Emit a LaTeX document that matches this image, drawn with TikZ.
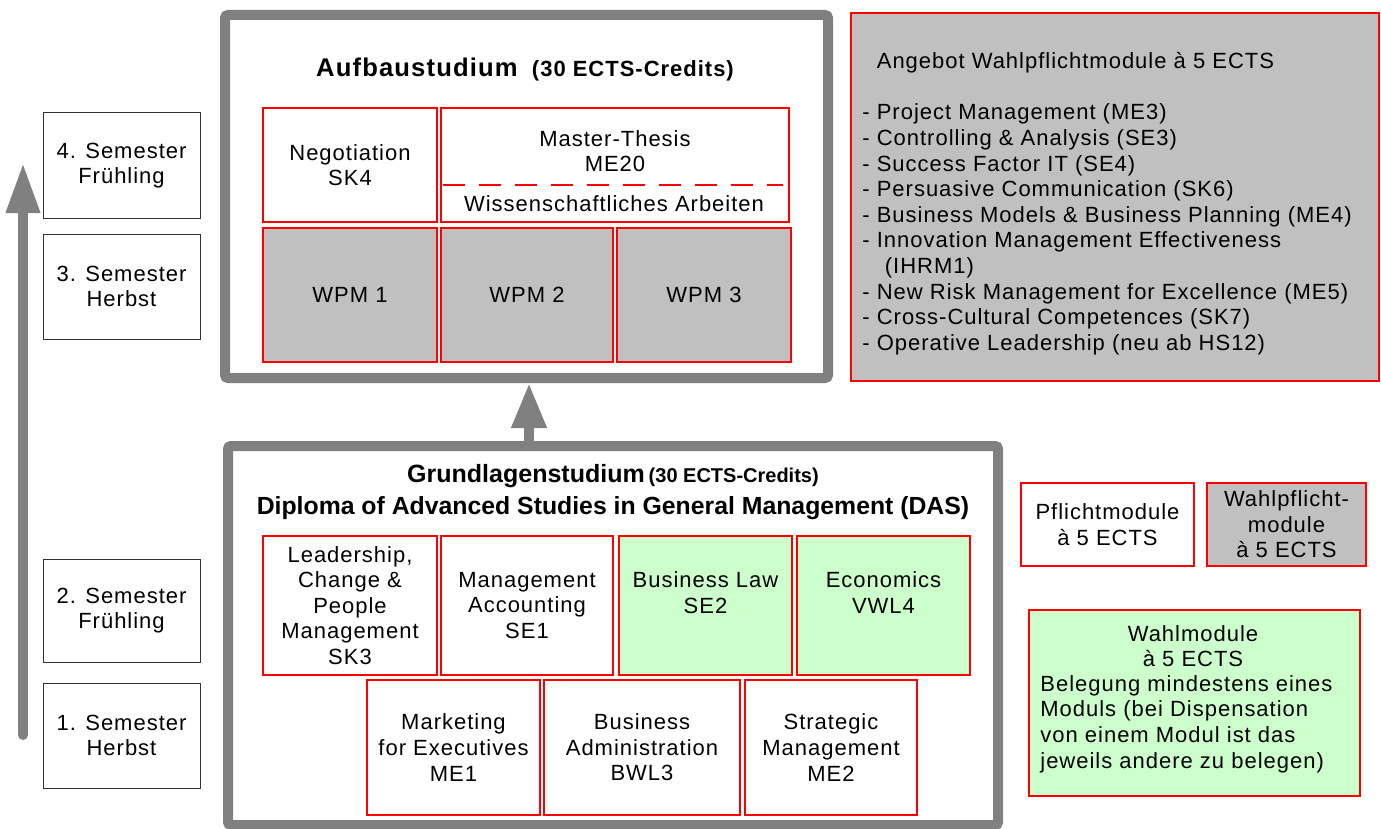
\documentclass[tikz,border=0pt]{standalone}
\usepackage{fontspec}
\setmainfont{Liberation Sans}[LetterSpace=4.5]
\newfontfamily\plainfont{Liberation Sans}
\usetikzlibrary{arrows.meta}
\definecolor{grayline}{HTML}{808080}
\definecolor{grayfill}{HTML}{C0C0C0}
\definecolor{greenfill}{HTML}{CCFFCC}
\definecolor{redline}{HTML}{FF0000}
\newcommand\mybox[7]{\node[#6, minimum width={(#4-#2)*0.5pt}, minimum height={(#5-#3)*0.5pt}] (#1) at ({(#2+#4)/2},{(#3+#5)/2}) {#7};}
\begin{document}
\begin{tikzpicture}[x=0.5pt,y=-0.5pt,font=\fontsize{11}{12.8}\selectfont,
  semb/.style={draw=black!80, line width=0.5pt, fill=white, align=center, inner sep=0pt},
  modw/.style={draw=redline, line width=1.25pt, fill=white, align=center, inner sep=0pt},
  modg/.style={modw, fill=grayfill},
  modgr/.style={modw, fill=greenfill},
  frame/.style={draw=grayline, line width=5pt, rounded corners=1.5pt, inner sep=0pt},
  txt/.style={align=center, inner sep=0pt},
  listtxt/.style={align=left, inner sep=0pt, anchor=north west},
  bigarrow/.style={draw=grayline, line width=5pt},
  dashline/.style={draw=redline, line width=1.25pt, dash pattern=on 11pt off 7pt}]
\path[use as bounding box, fill=white] (0,0) rectangle (1381,829);

% left time arrow
\coordinate (la0) at (23,735);
\coordinate (la1) at (23,163);
\draw[bigarrow, line cap=round, -{Triangle[width=16pt,length=25pt]}] (la0) -- (la1);

% semester boxes
\mybox{s4}{43}{113}{200}{218}{semb}{4. Semester\\Frühling}
\mybox{s3}{43}{234}{200}{339}{semb}{3. Semester\\Herbst}
\mybox{s2}{43}{559}{200}{662}{semb}{2. Semester\\Frühling}
\mybox{s1}{43}{683}{200}{788}{semb}{1. Semester\\Herbst}

% Aufbaustudium
\mybox{aufbau}{225}{15}{828}{378}{frame}{}
\node[txt] (atitle) at (525,70) {\fontsize{12.8}{14}\selectfont\bfseries Aufbaustudium\hspace{3pt} \fontsize{11}{13}\selectfont(30 ECTS-Credits)};
\mybox{neg}{263}{108}{437}{222}{modw}{Negotiation\\SK4}
\mybox{mt}{441}{108}{789}{222}{modw}{}
\node[txt] (mtt) at (615,151) {Master-Thesis\\ME20};
\node[txt] (wa) at (614,204) {Wissenschaftliches Arbeiten};
\coordinate (d1) at (443,185);
\coordinate (d2) at (783,185);
\draw[dashline] (d1) -- (d2);
\mybox{w1}{263}{228}{437}{362}{modg}{WPM 1}
\mybox{w2}{441}{228}{613}{362}{modg}{WPM 2}
\mybox{w3}{617}{228}{791}{362}{modg}{WPM 3}

% Wahlpflicht offer
\mybox{wpm}{851}{13}{1379}{381}{modg}{}
\node[listtxt] (wpml) at (862,52) {\hphantom{- }Angebot Wahlpflichtmodule à 5 ECTS\\[12.8pt]
- Project Management (ME3)\\
- Controlling \& Analysis (SE3)\\
- Success Factor IT (SE4)\\
- Persuasive Communication (SK6)\\
- Business Models \& Business Planning (ME4)\\
- Innovation Management Effectiveness\\
\hphantom{- }\hspace{4pt}(IHRM1)\\
- New Risk Management for Excellence (ME5)\\
- Cross-Cultural Competences (SK7)\\
- Operative Leadership (neu ab HS12)};

% Grundlagenstudium
\mybox{grund}{228}{446}{998}{825}{frame}{}
\node[txt, font=\plainfont\bfseries] (gtitle) at (613,476) {\fontsize{12.5}{15}\selectfont Grundlagenstudium\hspace{2pt}\fontsize{10}{12}\selectfont(30 ECTS-Credits)};
\node[txt, font=\plainfont\bfseries\fontsize{12.4}{15}\selectfont] (gdip) at (613,508) {Diploma of Advanced Studies in General Management (DAS)};
\mybox{lead}{263}{536}{437}{675}{modw}{Leadership,\\Change \&\\People\\Management\\SK3}
\mybox{macc}{441}{536}{613}{675}{modw}{Management\\Accounting\\SE1}
\mybox{blaw}{619}{536}{792}{675}{modgr}{Business Law\\SE2\\\mbox{}}
\mybox{econ}{797}{536}{970}{675}{modgr}{Economics\\VWL4\\\mbox{}}
\mybox{mkt}{367}{680}{540}{815}{modw}{Marketing\\for Executives\\ME1}
\mybox{badm}{544}{680}{740}{815}{modw}{Business\\Administration\\BWL3}
\mybox{strat}{745}{680}{917}{815}{modw}{Strategic\\Management\\ME2}

% arrow between the two studies
\coordinate (ax) at (529,0);
\draw[bigarrow, -{Triangle[width=16.5pt,length=22.5pt]}] (grund.north -| ax) -- (aufbau.south -| ax);

% legend
\mybox{lp}{1021}{483}{1194}{566}{modw}{Pflichtmodule\\à 5 ECTS}
\mybox{lwp}{1207}{483}{1366}{566}{modg}{Wahlpflicht-\\module\\à 5 ECTS}
\mybox{lw}{1029}{610}{1360}{796}{modgr}{}
\node[txt] (lwt) at (1193,646) {Wahlmodule\\à 5 ECTS};
\node[listtxt] (lwd) at (1040,675) {Belegung mindestens eines\\Moduls (bei Dispensation\\von einem Modul ist das\\jeweils andere zu belegen)};
\end{tikzpicture}
\end{document}
